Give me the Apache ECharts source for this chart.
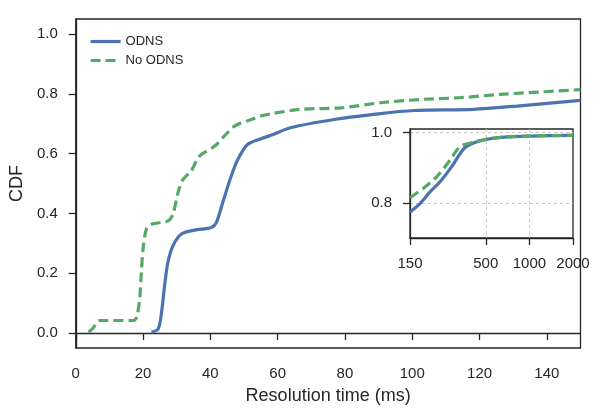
<!DOCTYPE html>
<html>
<head>
<meta charset="utf-8">
<script src="https://cdn.jsdelivr.net/npm/echarts@6/dist/echarts.min.js"></script>
<style>
html,body{margin:0;padding:0;background:#fff;}
#main{width:600px;height:416px;}
</style>
</head>
<body>
<div id="main"></div>
<script>
// main plot, resolution time (ms) vs CDF
var odnsX = [22.5, 24.5, 25.5, 26.4, 27.4, 28.9, 31.4, 35.3, 40.3, 41.8, 43.7, 46.2, 48.2, 51.1, 55.1, 58, 64, 76.8, 88.6, 100.5, 118.2, 131.1, 150];
var odnsY = [0.003, 0.014, 0.07, 0.159, 0.237, 0.292, 0.331, 0.344, 0.353, 0.37, 0.437, 0.525, 0.581, 0.631, 0.65, 0.661, 0.687, 0.714, 0.731, 0.744, 0.748, 0.759, 0.778];
var noOdnsX = [3.8, 5.0, 7.2, 17.1, 18.1, 19.0, 19.5, 20.0, 21.0, 22.5, 27.4, 28.9, 30.4, 31.9, 34.3, 36.8, 41.3, 44.2, 47.2, 52.1, 55.1, 58, 66.9, 78.8, 90.6, 102.5, 114.3, 126.1, 138, 150];
var noOdnsY = [0.003, 0.015, 0.042, 0.042, 0.053, 0.114, 0.203, 0.281, 0.348, 0.364, 0.375, 0.398, 0.47, 0.514, 0.542, 0.592, 0.625, 0.659, 0.692, 0.714, 0.726, 0.733, 0.748, 0.753, 0.77, 0.781, 0.787, 0.798, 0.806, 0.814];

// inset, log x from 150 to 2000
var insetOdnsX = [150, 176, 206, 242, 291, 351, 411, 508, 663, 1000, 2000];
var insetOdnsY = [0.774, 0.798, 0.831, 0.86, 0.903, 0.953, 0.97, 0.981, 0.987, 0.990, 0.992];
var insetNoX = [150, 185, 229, 284, 333, 411, 508, 663, 1000, 2000];
var insetNoY = [0.815, 0.841, 0.874, 0.922, 0.96, 0.972, 0.981, 0.987, 0.990, 0.992];

var xTicks = [0, 20, 40, 60, 80, 100, 120, 140];
var yTicks = [0, 0.2, 0.4, 0.6, 0.8, 1.0];
var insetXTicks = [150, 500, 1000, 2000];
var insetYTicks = [0.8, 1.0];

var blue = '#4C72B0', green = '#55A868', ink = '#262626';
var font = 'Liberation Sans, Arial, sans-serif';

function pairs(xs, ys, f){
	var out = [];
	for(var i=0;i<xs.length;i++){
		out.push([f ? f(xs[i]) : xs[i], ys[i]]);
	}
	return out;
}
function lg(v){ return Math.log10(v); }

function axisBase(){
	return {
		axisLine:{show:true, lineStyle:{color:ink, width:1.3}},
		axisTick:{show:true, length:7, lineStyle:{color:ink, width:1.3}},
		axisLabel:{color:ink, fontSize:15, fontFamily:font, margin:18},
		splitLine:{show:false}
	};
}

var myChart = echarts.init(document.getElementById('main'));

var mainX = axisBase();
mainX.type = 'value'; mainX.gridIndex = 0; mainX.min = 0; mainX.max = 150;
mainX.axisTick.customValues = xTicks;
mainX.axisLabel.customValues = xTicks;
mainX.name = 'Resolution time (ms)';
mainX.nameLocation = 'middle';
mainX.nameGap = 39;
mainX.nameTextStyle = {color:ink, fontSize:18, fontFamily:font};

var mainY = axisBase();
mainY.type = 'value'; mainY.gridIndex = 0; mainY.min = -0.05; mainY.max = 1.05;
mainY.axisTick.customValues = yTicks;
mainY.axisLabel.customValues = yTicks;
mainY.axisLabel.formatter = function(v){ return v.toFixed(1); };
mainY.name = 'CDF';
mainY.nameLocation = 'middle';
mainY.nameGap = 45;
mainY.nameTextStyle = {color:ink, fontSize:18, fontFamily:font};

// inset grid lines, grey dashed
var splitStyle = {color:'#c8c8c8', type:[3,3], width:1};

var inX = axisBase();
inX.type = 'value'; inX.gridIndex = 1; inX.min = lg(150); inX.max = lg(2000);
inX.axisTick.customValues = insetXTicks.map(lg);
inX.axisLabel.customValues = insetXTicks.map(lg);
inX.axisLabel.formatter = function(v){ return String(Math.round(Math.pow(10, v))); };
inX.splitLine = {show:true, showMinLine:false, showMaxLine:false, lineStyle:splitStyle}; // 150/2000 sit on the frame

var inY = axisBase();
inY.type = 'value'; inY.gridIndex = 1; inY.min = 0.7; inY.max = 1.01;
inY.axisTick.customValues = insetYTicks;
inY.axisLabel.customValues = insetYTicks;
inY.axisLabel.formatter = function(v){ return v.toFixed(1); };
inY.splitLine = {show:true, lineStyle:splitStyle};

function lineSeries(name, xs, ys, f, axis, color, dashed){
	return {
		name:name, type:'line', xAxisIndex:axis, yAxisIndex:axis,
		data:pairs(xs, ys, f), showSymbol:false, symbol:'none',
		smooth:0.3,
		lineStyle:{color:color, width:3.2, type:dashed ? [10,5] : 'solid'},
		itemStyle:{color:color}, z:axis ? 5 : 3
	};
}

var option = {
	animation:false,
	backgroundColor:'#fff',
	grid:[
		{left:74, right:19.5, top:19, bottom:68, show:true, borderColor:ink, borderWidth:1.3, backgroundColor:'transparent'},
		{left:410, right:27, top:129, bottom:178, show:true, borderColor:ink, borderWidth:1.3, backgroundColor:'#fff'}
	],
	legend:{
		orient:'vertical', left:84, top:30,
		itemWidth:30, itemHeight:14, itemGap:6,
		itemStyle:{opacity:0, borderWidth:0},
		lineStyle:{width:3.2},
		textStyle:{color:ink, fontSize:13, fontFamily:font},
		data:['ODNS','No ODNS']
	},
	xAxis:[mainX, inX],
	yAxis:[mainY, inY],
	series:[
		lineSeries('ODNS', odnsX, odnsY, null, 0, blue, false),
		lineSeries('No ODNS', noOdnsX, noOdnsY, null, 0, green, true),
		lineSeries('ODNS', insetOdnsX, insetOdnsY, lg, 1, blue, false),
		lineSeries('No ODNS', insetNoX, insetNoY, lg, 1, green, true)
	]
};

myChart.setOption(option);
</script>
</body>
</html>
